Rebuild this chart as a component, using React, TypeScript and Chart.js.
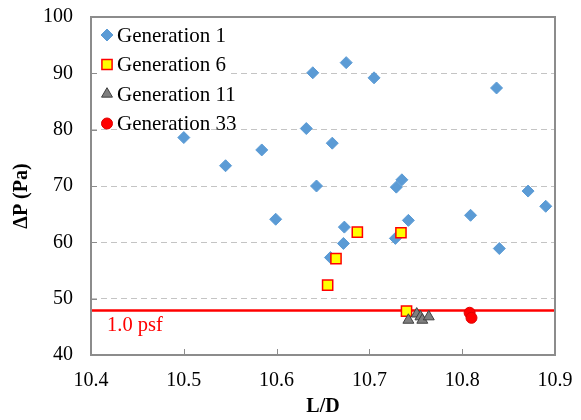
import React, { useEffect, useRef } from 'react';
import { Chart, registerables } from 'chart.js';

Chart.register(...registerables);

// ---- data ----
const gen1LD = [10.5, 10.545, 10.584, 10.599, 10.632, 10.639, 10.643, 10.66, 10.675, 10.673, 10.672, 10.658, 10.705, 10.728, 10.729, 10.735, 10.742, 10.809, 10.837, 10.84, 10.871, 10.89];
const gen1DP = [78.6, 73.6, 76.4, 64.1, 80.2, 90.1, 70.0, 77.6, 91.9, 62.7, 59.8, 57.3, 89.2, 60.7, 69.8, 71.1, 63.9, 64.8, 87.4, 58.9, 69.1, 66.4];
const gen6LD = [10.655, 10.664, 10.687, 10.734, 10.74];
const gen6DP = [52.4, 57.1, 61.8, 61.7, 47.8];
const gen11LD = [10.742, 10.751, 10.755, 10.757, 10.764];
const gen11DP = [46.2, 47.3, 46.8, 46.2, 46.8];
const gen33LD = [10.808, 10.81];
const gen33DP = [47.5, 46.6];
const limitPa = 47.88;
const limitLabel = '1.0 psf';
const seriesNames = ['Generation 1', 'Generation 6', 'Generation 11', 'Generation 33'];
const xTicks = [10.4, 10.5, 10.6, 10.7, 10.8, 10.9];
const yTicks = [40, 50, 60, 70, 80, 90, 100];

const toPts = (xs: number[], ys: number[]) => xs.map((x, i) => ({ x, y: ys[i] }));

const SERIF = "'Liberation Serif', 'Times New Roman', serif";

const styles = [
  { pointStyle: 'rectRot', radius: 6, bg: '#5B9BD5', border: '#5B9BD5', bw: 1 },
  { pointStyle: 'rect', radius: 7.2, bg: '#FFFF00', border: '#FF0000', bw: 1.5 },
  { pointStyle: 'triangle', radius: 6.3, bg: '#7F7F7F', border: '#404040', bw: 1 },
  { pointStyle: 'circle', radius: 5.5, bg: '#FF0000', border: '#E00000', bw: 1 },
];

function drawMarker(ctx: CanvasRenderingContext2D, style: string, r: number, x: number, y: number) {
  ctx.beginPath();
  if (style === 'rectRot') {
    ctx.moveTo(x - r, y);
    ctx.lineTo(x, y - r);
    ctx.lineTo(x + r, y);
    ctx.lineTo(x, y + r);
    ctx.closePath();
  } else if (style === 'rect') {
    const s = Math.SQRT1_2 * r;
    ctx.rect(x - s, y - s, 2 * s, 2 * s);
  } else if (style === 'triangle') {
    const tw = (2 * Math.PI) / 3;
    let rad = 0;
    ctx.moveTo(x + Math.sin(rad) * r, y - Math.cos(rad) * r);
    rad += tw;
    ctx.lineTo(x + Math.sin(rad) * r, y - Math.cos(rad) * r);
    rad += tw;
    ctx.lineTo(x + Math.sin(rad) * r, y - Math.cos(rad) * r);
    ctx.closePath();
  } else {
    ctx.arc(x, y, r, 0, Math.PI * 2);
  }
  ctx.fill();
  ctx.stroke();
}

const framePlugin = {
  id: 'frame',
  afterDatasetsDraw(chart: any) {
    const { ctx, chartArea: a, scales } = chart;
    ctx.save();
    // tick marks inside
    ctx.strokeStyle = '#8c8c8c';
    ctx.lineWidth = 1;
    ctx.beginPath();
    yTicks.forEach((v) => {
      const y = Math.round(scales.y.getPixelForValue(v)) + 0.5;
      ctx.moveTo(a.left, y);
      ctx.lineTo(a.left + 6, y);
    });
    xTicks.forEach((v) => {
      const x = Math.round(scales.x.getPixelForValue(v)) + 0.5;
      ctx.moveTo(x, a.bottom);
      ctx.lineTo(x, a.bottom - 6);
    });
    ctx.stroke();
    // box
    ctx.strokeStyle = '#8c8c8c';
    ctx.lineWidth = 2;
    ctx.strokeRect(a.left, a.top, a.right - a.left, a.bottom - a.top);
    // limit label
    ctx.fillStyle = '#FF0000';
    ctx.font = `20.5px ${SERIF}`;
    ctx.textAlign = 'left';
    ctx.textBaseline = 'alphabetic';
    ctx.fillText(limitLabel, a.left + 16, scales.y.getPixelForValue(limitPa) + 20);
    // legend
    ctx.fillStyle = '#ffffff';
    ctx.fillRect(a.left + 9, a.top + 3, 130, 106);
    ctx.font = `21px ${SERIF}`;
    ctx.textBaseline = 'middle';
    seriesNames.forEach((name, i) => {
      const cy = a.top + 18 + i * 29.5;
      const st = styles[i];
      ctx.fillStyle = st.bg;
      ctx.strokeStyle = st.border;
      ctx.lineWidth = st.bw;
      drawMarker(ctx, st.pointStyle, st.radius, a.left + 16, cy);
      ctx.fillStyle = '#000000';
      ctx.fillText(name, a.left + 26, cy + 1);
    });
    ctx.restore();
  },
};

export default function App() {
  const ref = useRef<HTMLCanvasElement | null>(null);
  useEffect(() => {
    document.body.style.margin = '0';
    const canvas = ref.current!;
    const seriesData = [
      toPts(gen1LD, gen1DP),
      toPts(gen6LD, gen6DP),
      toPts(gen11LD, gen11DP),
      toPts(gen33LD, gen33DP),
    ];
    const datasets: any[] = seriesData.map((d, i) => ({
      type: 'scatter',
      label: seriesNames[i],
      data: d,
      pointStyle: styles[i].pointStyle,
      pointRadius: styles[i].radius,
      pointHoverRadius: styles[i].radius,
      backgroundColor: styles[i].bg,
      borderColor: styles[i].border,
      borderWidth: styles[i].bw,
      order: 4 - i,
    }));
    datasets.push({
      type: 'line',
      label: limitLabel,
      data: [
        { x: xTicks[0], y: limitPa },
        { x: xTicks[xTicks.length - 1], y: limitPa },
      ],
      borderColor: '#FF0000',
      borderWidth: 2.5,
      pointRadius: 0,
      fill: false,
      order: 10,
    });
    const chart = new Chart(canvas, {
      type: 'scatter',
      data: { datasets },
      plugins: [framePlugin],
      options: {
        responsive: false,
        animation: false,
        layout: { padding: { left: 0, top: 17, right: 26, bottom: 0 } },
        plugins: { legend: { display: false }, tooltip: { enabled: false } },
        scales: {
          x: {
            type: 'linear',
            min: 10.4,
            max: 10.9,
            afterBuildTicks: (s: any) => {
              s.ticks = xTicks.map((v) => ({ value: v }));
            },
            afterFit: (s: any) => {
              s.height = 65;
              s.paddingLeft = 0;
              s.paddingRight = 0;
            },
            grid: { display: false, drawTicks: false },
            border: { display: false },
            ticks: {
              padding: 14,
              color: '#000',
              font: { family: SERIF, size: 20 },
              callback: (v: any) => Number(v).toFixed(1),
              maxRotation: 0,
            },
            title: {
              display: true,
              text: 'L/D',
              color: '#000',
              font: { family: SERIF, size: 20, weight: 'bold' },
              padding: { top: 0, bottom: 1 },
            },
          },
          y: {
            type: 'linear',
            min: 40,
            max: 100,
            afterBuildTicks: (s: any) => {
              s.ticks = yTicks.map((v) => ({ value: v }));
            },
            afterFit: (s: any) => {
              s.width = 91;
              s.paddingTop = 0;
              s.paddingBottom = 0;
            },
            grid: {
              drawTicks: false,
              color: (c: any) => (c.tick && (c.tick.value === 40 || c.tick.value === 100) ? 'rgba(0,0,0,0)' : '#c4c4c4'),
              lineWidth: 1,
            },
            border: { display: false, dash: [6, 4] },
            ticks: {
              padding: 18,
              color: '#000',
              font: { family: SERIF, size: 20 },
              callback: (v: any) => String(v),
            },
            title: {
              display: true,
              text: 'ΔP (Pa)    ',
              color: '#000',
              font: { family: SERIF, size: 20, weight: 'bold' },
              padding: { top: 10, bottom: 0 },
            },
          },
        },
      } as any,
    });
    return () => chart.destroy();
  }, []);
  return (
    <div style={{ width: 581, height: 420 }}>
      <canvas ref={ref} width={581} height={420} />
    </div>
  );
}
